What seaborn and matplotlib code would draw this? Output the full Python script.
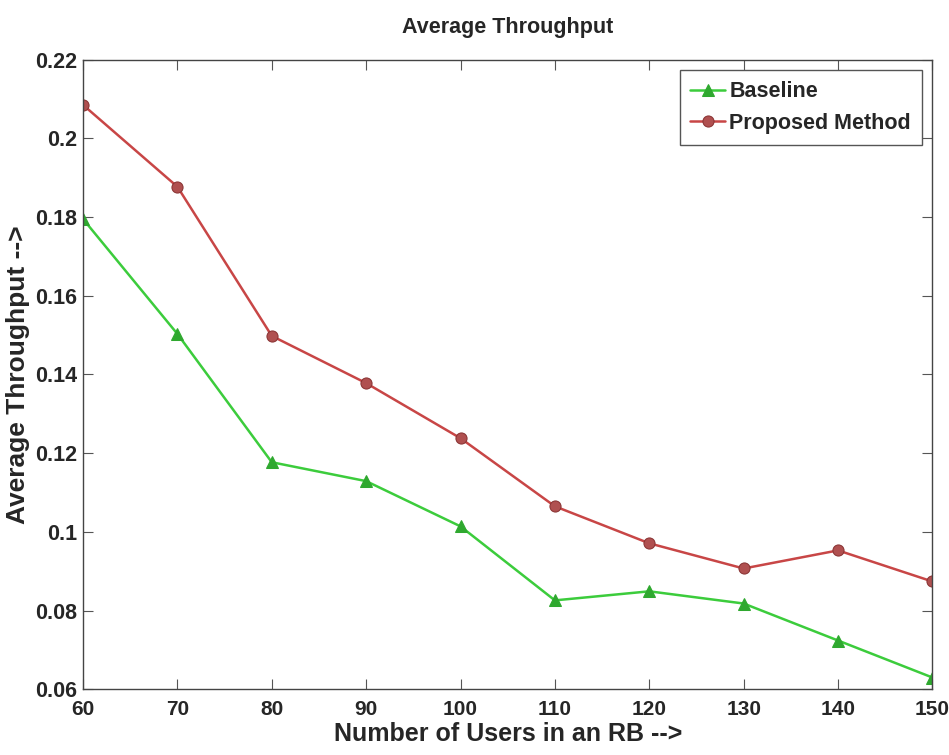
import matplotlib
matplotlib.use("Agg")
import matplotlib.pyplot as plt
import seaborn as sns
import pandas as pd

users = [60, 70, 80, 90, 100, 110, 120, 130, 140, 150]
baseline = [0.1795, 0.1503, 0.1177, 0.1129, 0.1014, 0.0826, 0.0849, 0.0818, 0.0724, 0.0630]
proposed = [0.2085, 0.1877, 0.1498, 0.1378, 0.1238, 0.1065, 0.0971, 0.0907, 0.0953, 0.0874]
xticks = [60, 70, 80, 90, 100, 110, 120, 130, 140, 150]
yticks = [0.06, 0.08, 0.1, 0.12, 0.14, 0.16, 0.18, 0.2, 0.22]
ytick_labels = ["0.06", "0.08", "0.1", "0.12", "0.14", "0.16", "0.18", "0.2", "0.22"]

sns.set_style("white")
plt.rcParams["font.family"] = ["Liberation Sans", "DejaVu Sans"]

df = pd.DataFrame({
    "users": users * 2,
    "value": baseline + proposed,
    "series": ["Baseline"] * len(users) + ["Proposed Method"] * len(users),
})

fig = plt.figure(figsize=(9.49, 7.55), dpi=100)
ax = fig.add_axes([0.0875, 0.087, 0.895, 0.834])

sns.lineplot(data=df[df.series == "Baseline"], x="users", y="value", ax=ax,
             color="#3ccc3c", linewidth=1.8, marker="^", markersize=8,
             markerfacecolor="#2fa82f", markeredgecolor="#2fa82f", label="Baseline")
sns.lineplot(data=df[df.series == "Proposed Method"], x="users", y="value", ax=ax,
             color="#c84646", linewidth=1.8, marker="o", markersize=8,
             markerfacecolor="#b05050", markeredgecolor="#8a3434", label="Proposed Method")

ax.set_xlim(60, 150)
ax.set_ylim(0.06, 0.22)
ax.set_xticks(xticks)
ax.set_xticklabels([str(t) for t in xticks], fontsize=15, fontweight="bold")
ax.set_yticks(yticks)
ax.set_yticklabels(ytick_labels, fontsize=15.5, fontweight="bold")
ax.tick_params(direction="in", length=7, width=0.8, top=True, right=True,
               bottom=True, left=True, color="#555555")
ax.tick_params(axis="x", pad=8)
ax.tick_params(axis="y", pad=4)
for s in ax.spines.values():
    s.set_visible(True)
    s.set_color("#444444")
    s.set_linewidth(1.0)

ax.set_title("Average Throughput", fontsize=15.5, fontweight="bold", pad=19)
ax.set_xlabel("Number of Users in an RB -->", fontsize=18, fontweight="bold", labelpad=2)
ax.set_ylabel("Average Throughput -->", fontsize=19, fontweight="bold", labelpad=4)

leg = ax.legend(loc="upper right", prop={"weight": "bold", "size": 15.5},
                frameon=True, fancybox=False, framealpha=1, edgecolor="#555555",
                handlelength=1.6, handletextpad=0.2, borderpad=0.5, labelspacing=0.5,
                borderaxespad=0.5)
leg.get_frame().set_linewidth(1.0)

fig.savefig("out.png", dpi=100)
